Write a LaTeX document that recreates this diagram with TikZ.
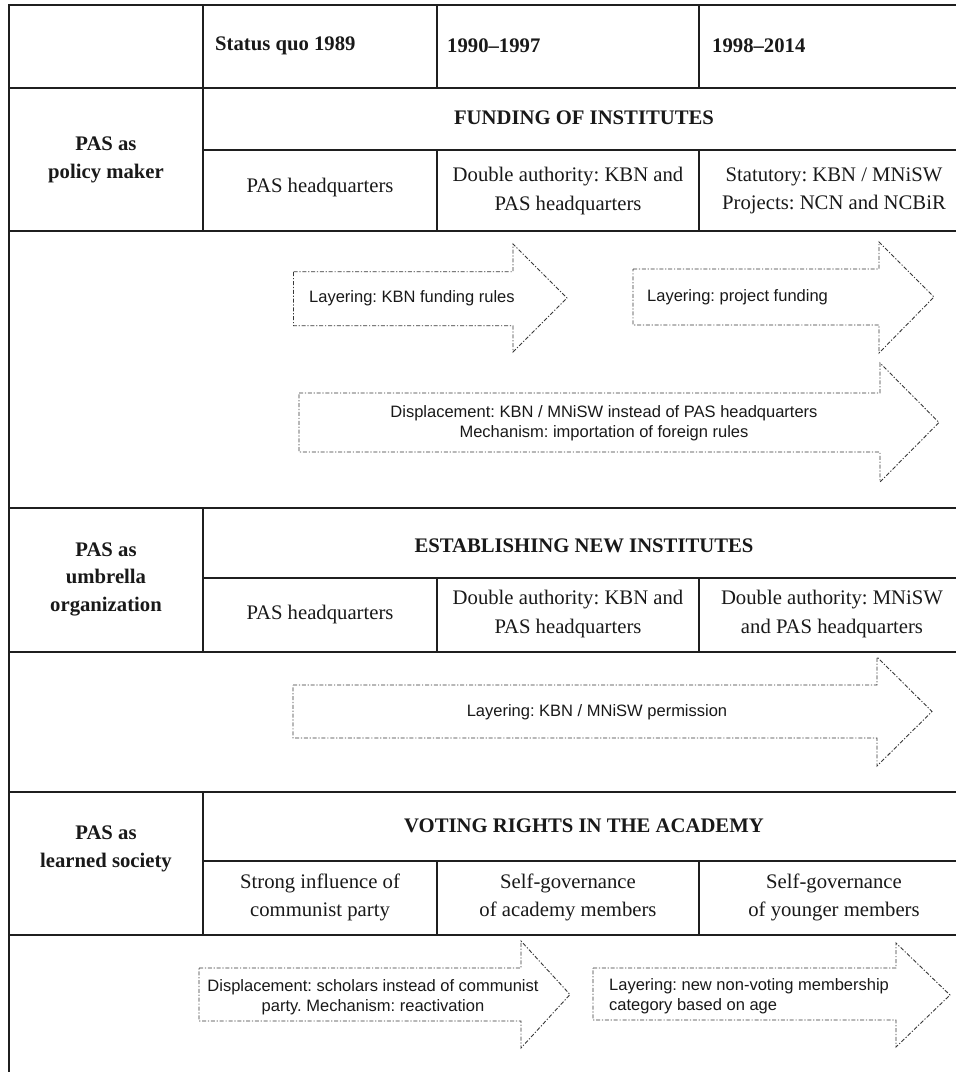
\documentclass[tikz,border=0pt]{standalone}
\usepackage{fontspec}
\setmainfont{Liberation Serif}
\newfontfamily\arrowfont{Liberation Sans}
\frenchspacing
\begin{document}
\begin{tikzpicture}[x=1pt,y=-1pt,
  grid/.style={line width=1.3pt, draw=black!88},
  frame/.style={line width=2pt, draw=black!88},
  flow/.style={draw=black!78, line width=0.9pt, dash pattern=on 4pt off 1.8pt on 1.2pt off 1.8pt, line join=miter},
  head/.style={font=\fontsize{20.7}{27.5}\selectfont\bfseries, anchor=west, inner sep=0pt, text=black!90},
  lbl/.style={font=\fontsize{20.7}{27.5}\selectfont\bfseries, align=center, inner sep=0pt, text=black!90},
  cell/.style={font=\fontsize{20.7}{28.5}\selectfont, align=center, inner sep=0pt, text=black!90},
  atext/.style={font=\arrowfont\fontsize{16.5}{19.5}\selectfont, inner sep=0pt, text=black!90},
]
\useasboundingbox (0,0) rectangle (956,1072);
\fill[white] (0,0) rectangle (956,1072);

% table grid
\draw[grid] (9,5) -- (956,5);
\draw[grid] (9,88) -- (956,88);
\draw[grid] (203,150) -- (956,150);
\draw[grid] (9,231) -- (956,231);
\draw[grid] (9,508) -- (956,508);
\draw[grid] (203,578) -- (956,578);
\draw[grid] (9,652) -- (956,652);
\draw[grid] (9,792) -- (956,792);
\draw[grid] (203,861) -- (956,861);
\draw[frame] (9,935) -- (956,935);

\draw[grid] (203,5) -- (203,231);
\draw[grid] (437,5) -- (437,88);
\draw[grid] (699,5) -- (699,88);
\draw[grid] (437,150) -- (437,231);
\draw[grid] (699,150) -- (699,231);
\draw[grid] (203,508) -- (203,652);
\draw[grid] (437,578) -- (437,652);
\draw[grid] (699,578) -- (699,652);
\draw[grid] (203,792) -- (203,935);
\draw[grid] (437,861) -- (437,935);
\draw[grid] (699,861) -- (699,935);
\draw[frame] (9,4.35) -- (9,1072);

% header
\node[head] (h1) at (215,46) {Status quo 1989};
\node[head] (h2) at (447,46) {1990--1997};
\node[head] (h3) at (712,46) {1998--2014};

% row labels
\node[lbl] (r1) at (106,160) {PAS as\\policy maker};
\node[lbl] (r2) at (106,579) {PAS as\\umbrella\\organization};
\node[lbl] (r3) at (106,849) {PAS as\\learned society};

% section titles
\node[lbl] (t1) at (584,118) {FUNDING OF INSTITUTES};
\node[lbl] (t2) at (584,546) {ESTABLISHING NEW INSTITUTES};
\node[lbl] (t3) at (584,826) {VOTING RIGHTS IN THE ACADEMY};

% cells
\node[cell] (c11) at (320,188) {PAS headquarters};
\node[cell] (c12) at (568,191) {Double authority: KBN and\\PAS headquarters};
\node[cell] (c13) at (834,191) {Statutory: KBN / MNiSW\\Projects: NCN and NCBiR};
\node[cell] (c21) at (320,615) {PAS headquarters};
\node[cell] (c22) at (568,614) {Double authority: KBN and\\PAS headquarters};
\node[cell] (c23) at (832,614) {Double authority: MNiSW\\and PAS headquarters};
\node[cell] (c31) at (320,897.5) {Strong influence of\\communist party};
\node[cell] (c32) at (568,897.5) {Self-governance\\of academy members};
\node[cell] (c33) at (834,897.5) {Self-governance\\of younger members};

% arrows
\draw[flow] (293.5,271.7) -- (513,271.7) -- (513,244) -- (567,298) -- (513,352) -- (513,325.7) -- (293.5,325.7) -- cycle;
\draw[flow] (633,269) -- (879,269) -- (879,242) -- (934,297) -- (879,353) -- (879,325) -- (633,325) -- cycle;
\draw[flow] (299,393) -- (880,393) -- (880,363) -- (939,422.5) -- (880,482) -- (880,452) -- (299,452) -- cycle;
\draw[flow] (293,685) -- (877,685) -- (877,657) -- (932,711.5) -- (877,766) -- (877,738) -- (293,738) -- cycle;
\draw[flow] (199,968) -- (521,968) -- (521,941) -- (570,994.5) -- (521,1048) -- (521,1021) -- (199,1021) -- cycle;
\draw[flow] (593,968) -- (896,968) -- (896,943) -- (950,995) -- (896,1047) -- (896,1020) -- (593,1020) -- cycle;

\node[atext, anchor=west] (a1) at (309,298) {Layering: KBN funding rules};
\node[atext, anchor=west] (a2) at (647,297) {Layering: project funding};
\node[atext, align=center] (a3) at (604,423) {Displacement: KBN / MNiSW instead of PAS headquarters\\Mechanism: importation of foreign rules};
\node[atext] (a4) at (597,712) {Layering: KBN / MNiSW permission};
\node[atext, align=center] (a5) at (373,997) {Displacement: scholars instead of communist\\party. Mechanism: reactivation};
\node[atext, align=left, anchor=west] (a6) at (609,996) {Layering: new non-voting membership\\category based on age};
\end{tikzpicture}
\end{document}
